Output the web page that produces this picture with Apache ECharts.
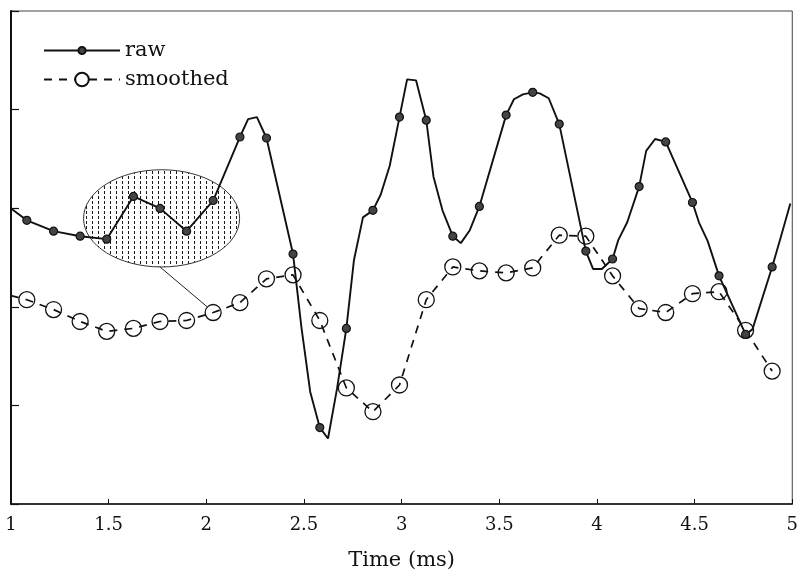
<!DOCTYPE html>
<html>
<head>
<meta charset="utf-8">
<script src="https://cdn.jsdelivr.net/npm/echarts@6/dist/echarts.min.js"></script>
<style>
  html, body { margin: 0; padding: 0; background: #fff; overflow: hidden; }
  #chart { width: 801px; height: 576px; }
</style>
</head>
<body>
<div id="chart"></div>
<script>
// ---- data (time in ms, amplitude in arbitrary units) ----
const xTicks = [1, 1.5, 2, 2.5, 3, 3.5, 4, 4.5, 5];

const rawT = [1.000, 1.081, 1.218, 1.354, 1.490, 1.627, 1.763, 1.899, 2.035, 2.172,
  2.214, 2.259, 2.308, 2.444, 2.487, 2.532, 2.581, 2.623, 2.669, 2.717,
  2.756, 2.802, 2.853, 2.893, 2.939, 2.989, 3.028, 3.074, 3.126, 3.163,
  3.209, 3.262, 3.303, 3.349, 3.398, 3.535, 3.575, 3.621, 3.671, 3.707,
  3.753, 3.807, 3.943, 3.980, 4.025, 4.080, 4.109, 4.155, 4.216, 4.252,
  4.298, 4.352, 4.489, 4.522, 4.567, 4.625, 4.761, 4.796, 4.897, 4.944, 4.990];
const rawV = [2.998, 2.877, 2.767, 2.716, 2.686, 3.119, 2.998, 2.767, 3.078, 3.722,
  3.903, 3.924, 3.712, 2.535, 1.791, 1.137, 0.775, 0.664, 1.167, 1.781,
  2.475, 2.907, 2.978, 3.139, 3.431, 3.924, 4.306, 4.296, 3.893, 3.320,
  2.978, 2.716, 2.646, 2.777, 3.018, 3.944, 4.105, 4.155, 4.175, 4.165,
  4.115, 3.853, 2.565, 2.384, 2.384, 2.485, 2.676, 2.857, 3.219, 3.581,
  3.702, 3.672, 3.058, 2.857, 2.666, 2.314, 1.720, 1.771, 2.404, 2.726, 3.048];
const rawMarked = [0, 1, 1, 1, 1, 1, 1, 1, 1, 1,
  0, 0, 1, 1, 0, 0, 1, 0, 0, 1,
  0, 0, 1, 0, 0, 1, 0, 0, 1, 0,
  0, 1, 0, 0, 1, 1, 0, 0, 1, 0,
  0, 1, 1, 0, 0, 1, 0, 0, 1, 0,
  0, 1, 1, 0, 0, 1, 1, 0, 1, 0, 0];

const smoothT = [1.000, 1.081, 1.218, 1.354, 1.490, 1.627, 1.763, 1.899, 2.035, 2.172,
  2.308, 2.444, 2.581, 2.717, 2.853, 2.989, 3.126, 3.262, 3.398, 3.535,
  3.671, 3.807, 3.943, 4.080, 4.216, 4.352, 4.489, 4.625, 4.761, 4.897];
const smoothV = [2.113, 2.072, 1.972, 1.851, 1.751, 1.781, 1.851, 1.861, 1.942, 2.042,
  2.284, 2.324, 1.861, 1.177, 0.936, 1.207, 2.072, 2.404, 2.364, 2.344,
  2.394, 2.726, 2.716, 2.314, 1.982, 1.942, 2.133, 2.153, 1.761, 1.348];
const smoothMarked = [0, 1, 1, 1, 1, 1, 1, 1, 1, 1,
  1, 1, 1, 1, 1, 1, 1, 1, 1, 1,
  1, 1, 1, 1, 1, 1, 1, 1, 1, 1];

// callout ellipse: centre time, centre value, radius in time, radius in value
const calloutEllipse = [1.771, 2.897, 0.3995, 0.493];
const leaderT = [1.763, 2.003];
const leaderV = [2.404, 2.002];

// ---- build ----
const FONT = 'DejaVu Serif';
function pts(ts, vs, marks) {
  return ts.map((t, i) => marks[i] ? [t, vs[i]] : { value: [t, vs[i]], symbol: 'none' });
}

const pc = document.createElement('canvas');
pc.width = 6; pc.height = 5;
const g = pc.getContext('2d');
g.fillStyle = '#ffffff'; g.fillRect(0, 0, 6, 5);
g.fillStyle = '#1a1a1a'; g.fillRect(2, 1, 1, 3);
const dotPattern = { image: pc, repeat: 'repeat' };

const chart = echarts.init(document.getElementById('chart'), null, { renderer: 'canvas' });
chart.setOption({
  animation: false,
  backgroundColor: '#ffffff',
  grid: { left: 11, right: 4, top: 11, bottom: 68, show: true, borderColor: '#444', borderWidth: 1, backgroundColor: 'transparent' },
  legend: [
    { data: ['raw'], left: 38, top: 35, itemWidth: 76, itemHeight: 9, selectedMode: false,
      textStyle: { fontFamily: FONT, fontSize: 21, color: '#111' } },
    { data: ['smoothed'], left: 38, top: 64, itemWidth: 76, itemHeight: 17, selectedMode: false,
      itemStyle: { color: '#fff' },
      textStyle: { fontFamily: FONT, fontSize: 21, color: '#111' } }
  ],
  xAxis: {
    type: 'value', min: xTicks[0], max: xTicks[xTicks.length - 1], interval: 0.5,
    name: 'Time (ms)', nameLocation: 'middle', nameGap: 46,
    nameTextStyle: { fontFamily: FONT, fontSize: 21, color: '#111' },
    axisLine: { lineStyle: { color: '#111', width: 1.5 } },
    axisTick: { inside: true, length: 5, lineStyle: { color: '#111', width: 1 } },
    axisLabel: { fontFamily: FONT, fontSize: 18, color: '#111', margin: 12 },
    splitLine: { show: false }
  },
  yAxis: {
    type: 'value', min: 0, max: 5, interval: 1,
    axisLine: { show: true, lineStyle: { color: '#111', width: 2 } },
    axisTick: { show: true, inside: true, length: 8, lineStyle: { color: '#111', width: 1.2 } },
    axisLabel: { show: false },
    splitLine: { show: false }
  },
  series: [
    {
      name: 'callout', type: 'custom', z: 1, silent: true,
      data: [calloutEllipse],
      encode: { x: 0, y: 1 },
      renderItem: function (params, api) {
        const c = api.coord([api.value(0), api.value(1)]);
        const s = api.size([api.value(2), api.value(3)]);
        return { type: 'ellipse', shape: { cx: c[0], cy: c[1], rx: s[0], ry: s[1] },
          style: { fill: dotPattern, stroke: '#333', lineWidth: 1 } };
      }
    },
    {
      name: 'leader', type: 'line', z: 2, silent: true, symbol: 'none',
      data: leaderT.map((t, i) => [t, leaderV[i]]),
      lineStyle: { color: '#222', width: 1 }
    },
    {
      name: 'smoothed', type: 'line', z: 3, showAllSymbol: true,
      symbol: 'circle', symbolSize: 16,
      data: pts(smoothT, smoothV, smoothMarked),
      lineStyle: { color: '#111', width: 1.7, type: [8, 7] },
      itemStyle: { color: 'rgba(255,255,255,0)', borderColor: '#111', borderWidth: 1.3 }
    },
    {
      name: 'raw', type: 'line', z: 4, showAllSymbol: true,
      symbol: 'circle', symbolSize: 8,
      data: pts(rawT, rawV, rawMarked),
      lineStyle: { color: '#111', width: 1.9 },
      itemStyle: { color: '#444', borderColor: '#111', borderWidth: 1.2 }
    }
  ]
});
</script>
</body>
</html>
